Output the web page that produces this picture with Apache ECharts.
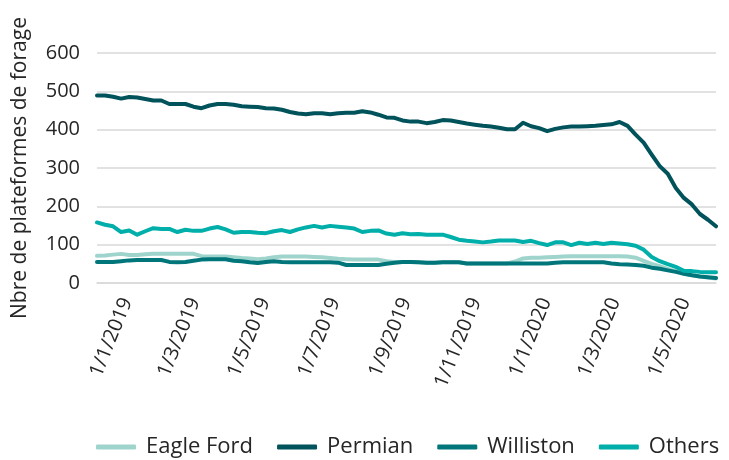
<!DOCTYPE html>
<html>
<head>
<meta charset="utf-8">
<script src="https://cdn.jsdelivr.net/npm/echarts@6/dist/echarts.min.js"></script>
<style>
html,body{margin:0;padding:0;background:#fff;}
#chart{width:729px;height:460px;}
</style>
</head>
<body>
<div id="chart"></div>
<script>
// Weekly dates (Fridays)
const dates = [
 '2018-12-14','2018-12-21','2018-12-28',
 '2019-01-04','2019-01-11','2019-01-18','2019-01-25',
 '2019-02-01','2019-02-08','2019-02-15','2019-02-22',
 '2019-03-01','2019-03-08','2019-03-15','2019-03-22','2019-03-29',
 '2019-04-05','2019-04-12','2019-04-19','2019-04-26',
 '2019-05-03','2019-05-10','2019-05-17','2019-05-24','2019-05-31',
 '2019-06-07','2019-06-14','2019-06-21','2019-06-28',
 '2019-07-05','2019-07-12','2019-07-19','2019-07-26',
 '2019-08-02','2019-08-09','2019-08-16','2019-08-23','2019-08-30',
 '2019-09-06','2019-09-13','2019-09-20','2019-09-27',
 '2019-10-04','2019-10-11','2019-10-18','2019-10-25',
 '2019-11-01','2019-11-08','2019-11-15','2019-11-22','2019-11-29',
 '2019-12-06','2019-12-13','2019-12-20','2019-12-27',
 '2020-01-03','2020-01-10','2020-01-17','2020-01-24','2020-01-31',
 '2020-02-07','2020-02-14','2020-02-21','2020-02-28',
 '2020-03-06','2020-03-13','2020-03-20','2020-03-27',
 '2020-04-03','2020-04-10','2020-04-17','2020-04-24',
 '2020-05-01','2020-05-08','2020-05-15','2020-05-22','2020-05-29',
 '2020-06-05'
];

const seriesNames = ['Eagle Ford','Permian','Williston','Others'];

const eagleFord = [
 71,72,74,76,73,73,75,76,76,76,76,76,76,70,69,69,69,67,65,64,
 62,64,67,69,69,69,69,68,67,65,63,62,61,61,61,61,57,55,55,55,
 54,53,53,54,54,54,51,51,51,51,51,51,56,64,66,66,67,68,69,70,
 70,70,70,70,70,70,69,66,58,50,44,37,31,25,21,17,14,12
];
const permian = [
 489,489,486,481,485,484,480,476,476,467,467,467,460,456,463,467,467,465,461,460,
 459,456,455,452,446,442,440,443,443,440,443,444,444,448,445,439,432,431,424,421,
 421,417,420,425,424,420,416,413,410,408,405,401,401,418,409,404,396,402,406,408,
 408,409,410,412,414,420,410,387,366,335,305,285,248,222,205,180,165,148
];
const williston = [
 55,55,55,57,59,60,60,60,60,55,54,55,58,61,62,62,62,58,57,54,
 52,55,57,55,54,54,54,54,54,54,53,47,47,47,47,47,50,53,55,55,
 54,53,53,54,54,54,51,51,51,51,51,51,51,51,51,51,51,53,54,54,
 54,54,54,54,51,49,48,47,45,40,37,33,29,24,20,17,15,13
];
const others = [
 158,152,148,133,137,126,135,143,141,141,133,139,136,136,142,146,140,131,133,133,
 131,130,135,138,133,140,145,149,145,149,147,145,142,133,136,137,129,126,130,127,
 128,126,126,126,120,113,110,108,106,108,111,111,111,107,110,104,99,106,106,99,
 105,102,105,102,105,103,101,97,87,68,57,49,42,32,31,29,28,28
];

// x-axis tick label dates (d/m/yyyy)
const tickDates = ['2019-01-01','2019-03-01','2019-05-01','2019-07-01','2019-09-01','2019-11-01','2020-01-01','2020-03-01','2020-05-01'];
const yTicks = [0,100,200,300,400,500,600];

const colors = ['#9fd4cd','#00535a','#00767b','#00afaa'];

function ts(s){ const p=s.split('-').map(Number); return new Date(p[0],p[1]-1,p[2]).getTime(); }
function pairs(vals){ return dates.map((d,i)=>[ts(d), vals[i]]); }

const font = '"Open Sans", "Noto Sans", sans-serif';
const chart = echarts.init(document.getElementById('chart'), null, {renderer:'canvas'});
const allVals = [eagleFord, permian, williston, others];

chart.setOption({
  animation:false,
  color: colors,
  textStyle:{fontFamily:font},
  grid:{left:97, right:13, top:53, bottom:177, containLabel:false},
  legend:{
    data: seriesNames,
    left:96, top:436, padding:0,
    icon:'roundRect', itemWidth:40, itemHeight:5, itemGap:24,
    textStyle:{fontSize:22, color:'#262626', fontFamily:font, padding:[0,0,0,5]}
  },
  xAxis:{
    type:'value',
    min: ts(dates[0]), max: ts(dates[dates.length-1]),
    axisLine:{show:true, lineStyle:{color:'#d9d9d9', width:1.5}},
    axisTick:{show:false},
    splitLine:{show:false},
    axisLabel:{
      customValues: tickDates.map(ts),
      rotate:68, margin:12, fontSize:20, color:'#262626', fontFamily:font,
      verticalAlign:'top',
      showMinLabel:true, showMaxLabel:true, hideOverlap:false,
      formatter:function(v){ const d=new Date(v); return d.getDate()+'/'+(d.getMonth()+1)+'/'+d.getFullYear(); }
    }
  },
  yAxis:{
    type:'value', min:yTicks[0], max:yTicks[yTicks.length-1], interval:100,
    name:'Nbre de plateformes de forage', nameLocation:'middle', nameGap:66, nameRotate:90,
    nameTextStyle:{fontSize:21, color:'#262626', fontFamily:font},
    axisLine:{show:false}, axisTick:{show:false},
    axisLabel:{fontSize:20, color:'#262626', margin:17, fontFamily:font},
    splitLine:{lineStyle:{color:'#d9d9d9', width:1.5}}
  },
  series: seriesNames.map((n,k)=>({
    name:n, type:'line', data:pairs(allVals[k]),
    symbol:'none', smooth:false,
    lineStyle:{width:4, cap:'round', join:'round'},
    emphasis:{disabled:true}
  }))
});
</script>
</body>
</html>
